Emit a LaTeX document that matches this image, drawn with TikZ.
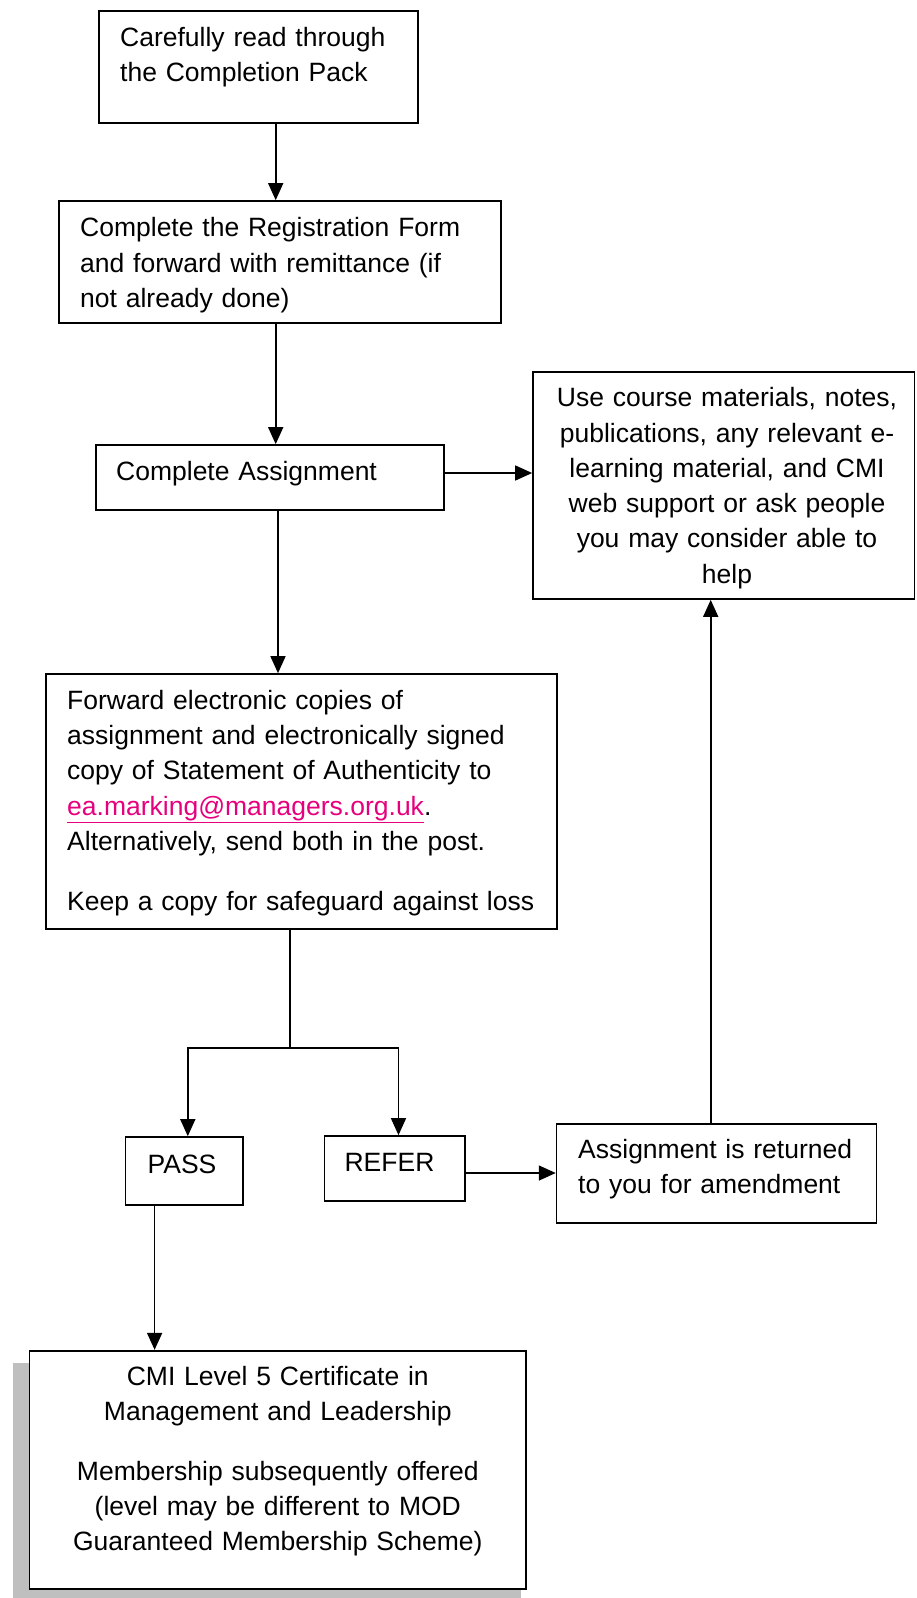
\documentclass[tikz,border=0pt]{standalone}
\usepackage{fontspec}
\setmainfont{Liberation Sans}
\usetikzlibrary{arrows.meta}
\definecolor{linkpink}{RGB}{230,0,126}
\tikzset{
	box/.style={draw, line width=1.7pt, fill=white, inner sep=0pt},
	txt/.style={inner sep=0pt, font=\fontsize{26.5}{35.3}\selectfont},
	link/.style={line width=1.6pt},
	arr/.style={link, -{Triangle[length=17pt,width=15pt]}}
}
\begin{document}
\begin{tikzpicture}[x=1pt,y=-1pt]
	\useasboundingbox (0,0) rectangle (916,1598);
	
	% boxes
	\node[box, minimum width=318.4pt, minimum height=112pt] (read) at (258.5,66.7) {};
	\node[box, minimum width=442pt, minimum height=121.7pt] (register) at (280,261.85) {};
	\node[box, minimum width=348pt, minimum height=65pt] (assign) at (270,477.5) {};
	\node[box, minimum width=381.5pt, minimum height=227.3pt] (support) at (723.75,485.35) {};
	\node[box, minimum width=511.3pt, minimum height=255pt] (forward) at (301.35,801.5) {};
	\node[box, minimum width=117.5pt, minimum height=68pt] (pass) at (184.25,1171) {};
	\node[box, minimum width=140.5pt, minimum height=64.7pt] (refer) at (394.75,1168.35) {};
	\node[box, minimum width=319.9pt, minimum height=98.4pt] (returned) at (716.55,1173.5) {};
	\fill[black!25] (12.5,1363) rectangle (521,1598);
	\node[box, minimum width=496.4pt, minimum height=238.6pt] (cert) at (277.8,1470) {};
	
	% texts
	\node[txt, anchor=base west, text width=300pt, align=left] (readtxt) at (120,46)
		{Carefully read through\\the Completion Pack};
	\node[txt, anchor=base west, text width=410pt, align=left] (registertxt) at (80,236.7)
		{Complete the Registration Form\\and forward with remittance (if\\not already done)};
	\node[txt, anchor=base west, text width=320pt, align=left] (assigntxt) at (116,480)
		{Complete Assignment};
	\node[txt, anchor=base, text width=370pt, align=center] (supporttxt) at (727,406.7)
		{Use course materials, notes,\\publications, any relevant e-\\learning material, and CMI\\web support or ask people\\you may consider able to\\help};
	\node[txt, anchor=base west, text width=480pt, align=left] (forwardtxt) at (67,709.3)
		{Forward electronic copies of\\assignment and electronically signed\\copy of Statement of Authenticity to\\{\color{linkpink}\underline{ea.marking@managers.org.uk}}.\\Alternatively, send both in the post.\\[24.7pt]Keep a copy for safeguard against loss};
	\node[txt, anchor=base] (passtxt) at (182,1173) {PASS};
	\node[txt, anchor=base] (refertxt) at (389.5,1171.7) {REFER};
	\node[txt, anchor=base west, text width=300pt, align=left] (returnedtxt) at (578,1158)
		{Assignment is returned\\to you for amendment};
	\node[txt, anchor=base, text width=480pt, align=center] (certtxt) at (277.8,1385)
		{CMI Level 5 Certificate in\\Management and Leadership\\[24.7pt]Membership subsequently offered\\(level may be different to MOD\\Guaranteed Membership Scheme)};
	
	% connectors
	\coordinate (m1) at (275.7,0);
	\coordinate (m2) at (278,0);
	\coordinate (side) at (0,473);
	\coordinate (split) at (290,1048);
	\coordinate (pl) at (187.8,1048);
	\coordinate (rl) at (398.5,1048);
	\coordinate (back) at (0,1173);
	\coordinate (up) at (710.7,0);
	\coordinate (down) at (154.6,0);
	\draw[arr] (read.south -| m1) -- (register.north -| m1);
	\draw[arr] (register.south -| m1) -- (assign.north -| m1);
	\draw[arr] (assign.east |- side) -- (support.west |- side);
	\draw[arr] (assign.south -| m2) -- (forward.north -| m2);
	\draw[link] (forward.south -| split) -- (split);
	\draw[arr] (split) -- (pl) -- (pass.north -| pl);
	\draw[arr] (split) -- (rl) -- (refer.north -| rl);
	\draw[arr] (refer.east |- back) -- (returned.west |- back);
	\draw[arr] (returned.north -| up) -- (support.south -| up);
	\draw[arr] (pass.south -| down) -- (cert.north -| down);
\end{tikzpicture}
\end{document}
